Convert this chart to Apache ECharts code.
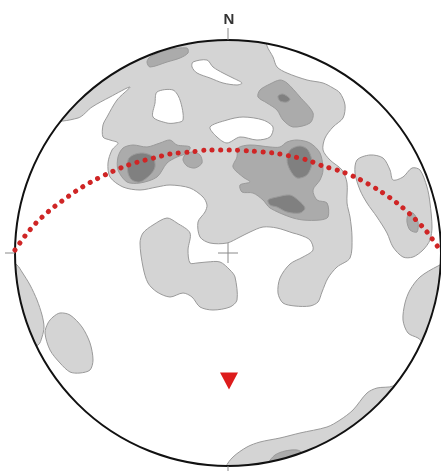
<!DOCTYPE html>
<html>
<head>
<meta charset="utf-8">
<script src="https://cdn.jsdelivr.net/npm/echarts@6/dist/echarts.min.js"></script>
<style>
  html, body { margin: 0; padding: 0; background: #fff; }
  #net { width: 441px; height: 471px; }
</style>
</head>
<body>
<div id="net"></div>
<script>
// Equal-area net, lower hemisphere. Coordinates are net units, primitive circle radius = NET_RADIUS.
const NET_RADIUS = 213;
const northLabel = 'N';

// Lowest density contour (light grey)
const lightZones = [
  [[-178,135],[-208,223],[34,228],[39,207],[45,196],[49,186],[59,180],[79,173],[95,170],[105,165],[112,160],
   [117,148],[115,135],[105,126],[97,115],[95,103],[102,93],[114,83],[119,70],[119,50],[122,36],[124,16],
   [122,-5],[109,-14],[100,-25],[94,-39],[90,-49],[82,-53],[67,-53],[55,-50],[50,-40],[52,-25],[62,-11],
   [75,-4],[85,3],[82,13],[72,18],[65,20],[49,25],[35,26],[22,21],[12,16],[-1,10],[-18,10],[-28,16],
   [-30,31],[-23,41],[-21,48],[-25,56],[-38,65],[-58,68],[-71,66],[-88,63],[-105,66],[-118,76],[-120,90],
   [-116,103],[-110,110],[-118,113],[-125,116],[-125,128],[-121,136],[-111,153],[-98,166],[-118,156],
   [-136,146],[-150,135]],
  [[-85,20],[-75,28],[-61,35],[-51,30],[-38,20],[-40,3],[-38,-10],[-31,-10],[-21,-9],[-8,-9],[2,-17],
   [7,-24],[9,-47],[2,-54],[-15,-57],[-28,-54],[-36,-44],[-45,-40],[-58,-44],[-71,-39],[-80,-30],[-85,-14],[-88,10]],
  [[129,93],[142,98],[155,95],[162,83],[165,73],[175,76],[184,85],[192,83],[199,66],[202,50],[204,26],
   [202,13],[195,3],[185,-4],[175,-4],[165,6],[159,20],[149,36],[139,50],[132,63],[127,80]],
  [[-223,-5],[-211,-12],[-206,-19],[-198,-32],[-191,-47],[-186,-62],[-184,-74],[-186,-84],[-190,-92],[-223,-102]],
  [[-168,-60],[-158,-62],[-146,-74],[-138,-90],[-135,-107],[-138,-117],[-148,-120],[-158,-119],[-168,-110],
   [-178,-97],[-183,-80],[-180,-70],[-175,-64]],
  [[222,-9],[210,-13],[192,-24],[182,-37],[177,-50],[175,-67],[180,-80],[190,-85],[195,-89],[222,-97]],
  [[177,-122],[165,-133],[149,-135],[139,-140],[125,-157],[112,-167],[99,-174],[72,-180],[52,-185],
   [32,-189],[19,-194],[5,-204],[-2,-214],[-2,-227],[177,-227]]
];

// Empty windows inside the lowest contour
const openings = [
  [[-35,191],[-21,193],[-15,186],[-5,180],[5,175],[14,170],[9,168],[-5,170],[-18,175],[-31,180],[-36,186]],
  [[-71,161],[-55,163],[-48,153],[-45,133],[-53,130],[-61,130],[-75,136],[-73,150]],
  [[-18,126],[-1,133],[15,136],[35,133],[45,126],[42,116],[29,113],[12,116],[-1,110],[-11,116]]
];

// Middle contour (mid grey)
const mediumZones = [
  [[-78,196],[-61,203],[-41,205],[-40,200],[-48,195],[-61,191],[-78,186],[-81,191]],
  [[32,163],[42,169],[52,173],[59,170],[72,156],[85,140],[82,130],[65,126],[55,133],[49,143],[39,150],[30,156]],
  [[-110,96],[-105,105],[-95,108],[-81,106],[-68,110],[-58,113],[-51,108],[-38,106],[-41,100],[-51,96],
   [-61,90],[-71,76],[-88,70],[-101,71],[-110,83]],
  [[-43,98],[-36,101],[-28,98],[-26,90],[-33,85],[-41,87],[-45,93]],
  [[9,96],[10,105],[22,108],[42,106],[52,106],[59,111],[69,113],[82,110],[92,100],[95,83],[92,73],[85,63],
   [89,53],[99,50],[100,36],[92,33],[75,33],[62,36],[42,45],[35,53],[25,60],[14,61],[12,68],[22,71],[15,76],[5,86]],
  [[180,38],[185,40],[190,31],[189,21],[182,23],[179,31]],
  [[37,-217],[40,-210],[47,-202],[57,-198],[69,-197],[74,-200],[77,-217]]
];

// Highest contour (dark grey)
const darkZones = [
  [[50,157],[55,159],[62,154],[59,151],[52,152]],
  [[-100,93],[-95,98],[-85,100],[-75,96],[-73,86],[-78,78],[-88,71],[-96,73],[-100,80]],
  [[62,103],[72,107],[80,103],[84,90],[79,78],[69,75],[62,83],[59,93]],
  [[40,53],[49,56],[62,58],[70,53],[77,45],[72,40],[59,41],[49,46],[42,48]]
];

// Mean plane, traced as a great circle
const greatCircle = [
  [-213,3],[-203,17],[-192,30],[-179,42],[-166,52],[-152,62],[-137,71],[-121,79],[-105,86],[-90,91],
  [-74,95],[-58,99],[-38,101],[-18,103],[2,103],[22,102],[45,100],[62,97],[79,93],[95,87],[112,82],
  [129,75],[152,62],[169,50],[185,36],[199,21],[212,3]
];

// Pole to the mean plane
const poleMarker = [[1,-128]];

const OUTLINE = '#9a9a9a';

function zoneSeries(name, zones, fill, z) {
  return {
    name: name,
    type: 'custom',
    coordinateSystem: 'cartesian2d',
    z: z,
    silent: true,
    clip: true,
    data: zones.map(() => [0, 0]),
    renderItem: function (params, api) {
      const pts = zones[params.dataIndex].map(p => api.coord(p));
      return {
        type: 'polygon',
        shape: { points: pts, smooth: 0.3 },
        style: { fill: fill, stroke: OUTLINE, lineWidth: 1 }
      };
    }
  };
}

const chart = echarts.init(document.getElementById('net'), null, { renderer: 'canvas' });

chart.setOption({
  animation: false,
  backgroundColor: '#fff',
  grid: { left: 15, top: 40, width: 426, height: 426 },
  xAxis: { type: 'value', min: -NET_RADIUS, max: NET_RADIUS, show: false },
  yAxis: { type: 'value', min: -NET_RADIUS, max: NET_RADIUS, show: false },
  series: [
    zoneSeries('light', lightZones, '#d4d4d4', 1),
    zoneSeries('open', openings, '#ffffff', 2),
    zoneSeries('medium', mediumZones, '#ababab', 3),
    zoneSeries('dark', darkZones, '#808080', 4),
    {
      name: 'frame',
      type: 'custom',
      coordinateSystem: 'cartesian2d',
      z: 6,
      silent: true,
      clip: false,
      data: [[0, 0]],
      renderItem: function (params, api) {
        const c = api.coord([0, 0]);
        const r = api.size([NET_RADIUS, 0])[0];
        const tick = { stroke: '#8a8a8a', lineWidth: 1 };
        return {
          type: 'group',
          children: [
            { type: 'ring', shape: { cx: c[0], cy: c[1], r: r + 400, r0: r }, style: { fill: '#fff' } },
            { type: 'circle', shape: { cx: c[0], cy: c[1], r: r }, style: { fill: null, stroke: '#111', lineWidth: 2 } },
            { type: 'line', shape: { x1: c[0], y1: c[1] - r - 12, x2: c[0], y2: c[1] - r }, style: tick },
            { type: 'line', shape: { x1: c[0], y1: c[1] + r, x2: c[0], y2: c[1] + r + 10 }, style: tick },
            { type: 'line', shape: { x1: c[0] - r - 10, y1: c[1], x2: c[0] - r, y2: c[1] }, style: tick },
            { type: 'line', shape: { x1: c[0] + r, y1: c[1], x2: c[0] + r + 10, y2: c[1] }, style: tick },
            { type: 'line', shape: { x1: c[0] - 10, y1: c[1], x2: c[0] + 10, y2: c[1] }, style: tick },
            { type: 'line', shape: { x1: c[0], y1: c[1] - 10, x2: c[0], y2: c[1] + 10 }, style: tick },
            {
              type: 'text',
              x: c[0] + 1, y: c[1] - r - 20,
              style: {
                text: northLabel, fill: '#333', font: 'bold 15px "Liberation Sans", Arial, sans-serif',
                align: 'center', verticalAlign: 'middle'
              }
            }
          ]
        };
      }
    },
    {
      name: 'plane',
      type: 'line',
      z: 7,
      silent: true,
      smooth: 0.3,
      symbol: 'none',
      data: greatCircle,
      lineStyle: { color: '#cf2525', width: 5, type: [0.1, 8.4], cap: 'round', opacity: 1 }
    },
    {
      name: 'pole',
      type: 'scatter',
      z: 8,
      silent: true,
      symbol: 'triangle',
      symbolRotate: 180,
      symbolSize: [18, 17],
      data: poleMarker,
      itemStyle: { color: '#dd1c1c', opacity: 1 }
    }
  ]
});
</script>
</body>
</html>
